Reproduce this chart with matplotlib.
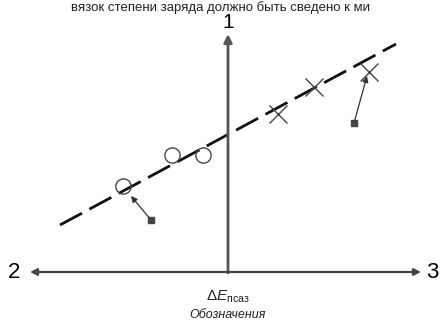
import matplotlib
matplotlib.use("Agg")
import matplotlib.pyplot as plt

plt.rcParams['font.family'] = ['Liberation Sans', 'DejaVu Sans']
plt.rcParams['mathtext.fontset'] = 'custom'
plt.rcParams['mathtext.rm'] = 'Liberation Sans'
plt.rcParams['mathtext.it'] = 'Liberation Sans:italic'

# measured points (picture coordinates, y down)
circle_x = [123, 172, 203]
circle_y = [186, 155, 155]
cross_x = [278, 314, 369]
cross_y = [114, 87, 72]

# fitted trend line end points
fit_x = [60, 396]
fit_y = [225, 44]

# callouts: (marker, arrow tip)
callout_from = [(151, 220), (354, 123)]
callout_to = [(131, 196), (367, 76)]

axis_labels = ["1", "2", "3"]
top_text = "вязок степени заряда должно быть сведено к ми"

fig = plt.figure(figsize=(4.43, 3.24), dpi=100)
ax = fig.add_axes([0, 0, 1, 1])
ax.set_xlim(0, 443)
ax.set_ylim(324, 0)
ax.axis('off')

# axes
ax.annotate("", xy=(228, 34), xytext=(228, 273),
            arrowprops=dict(arrowstyle='-|>', color='#555555', lw=2,
                            mutation_scale=12, shrinkA=0, shrinkB=0))
ax.annotate("", xy=(30, 272), xytext=(228, 272),
            arrowprops=dict(arrowstyle='-|>', color='#444444', lw=1.6,
                            mutation_scale=10, shrinkA=0, shrinkB=0))
ax.annotate("", xy=(421, 272), xytext=(228, 272),
            arrowprops=dict(arrowstyle='-|>', color='#444444', lw=1.6,
                            mutation_scale=10, shrinkA=0, shrinkB=0))

ax.text(228, 23, axis_labels[0], fontsize=15, ha='center', va='center')
ax.text(14, 273, axis_labels[1], fontsize=16, ha='center', va='center')
ax.text(432, 273, axis_labels[2], fontsize=16, ha='center', va='center')

# trend line
ax.plot(fit_x, fit_y, color='#111111', lw=2.0, dashes=(9, 3))

# data points
ax.plot(circle_x, circle_y, 'o', ms=11, mfc='none', mec='#444444', mew=1.0)
ax.plot(cross_x, cross_y, 'x', ms=13, mec='#444444', mew=1.0)

# callouts
for (x0, y0), (x1, y1) in zip(callout_from, callout_to):
    ax.annotate("", xy=(x1, y1), xytext=(x0, y0),
                arrowprops=dict(arrowstyle='-|>', color='#333333', lw=0.9,
                                mutation_scale=9, shrinkA=2, shrinkB=0))
    ax.plot(x0, y0, 's', ms=4, color='#444444')

ax.text(228, 297, r'$\Delta \mathit{E}_{\mathrm{псаз}}$', fontsize=11,
        ha='center', va='center', color='#222222')
ax.text(228, 315, "Обозначения", fontsize=9, style='italic',
        ha='center', va='center', color='#222222')
ax.text(221, 1, top_text, fontsize=9.5, ha='center', va='top',
        color='#222222')

fig.savefig("out.png", dpi=100)
